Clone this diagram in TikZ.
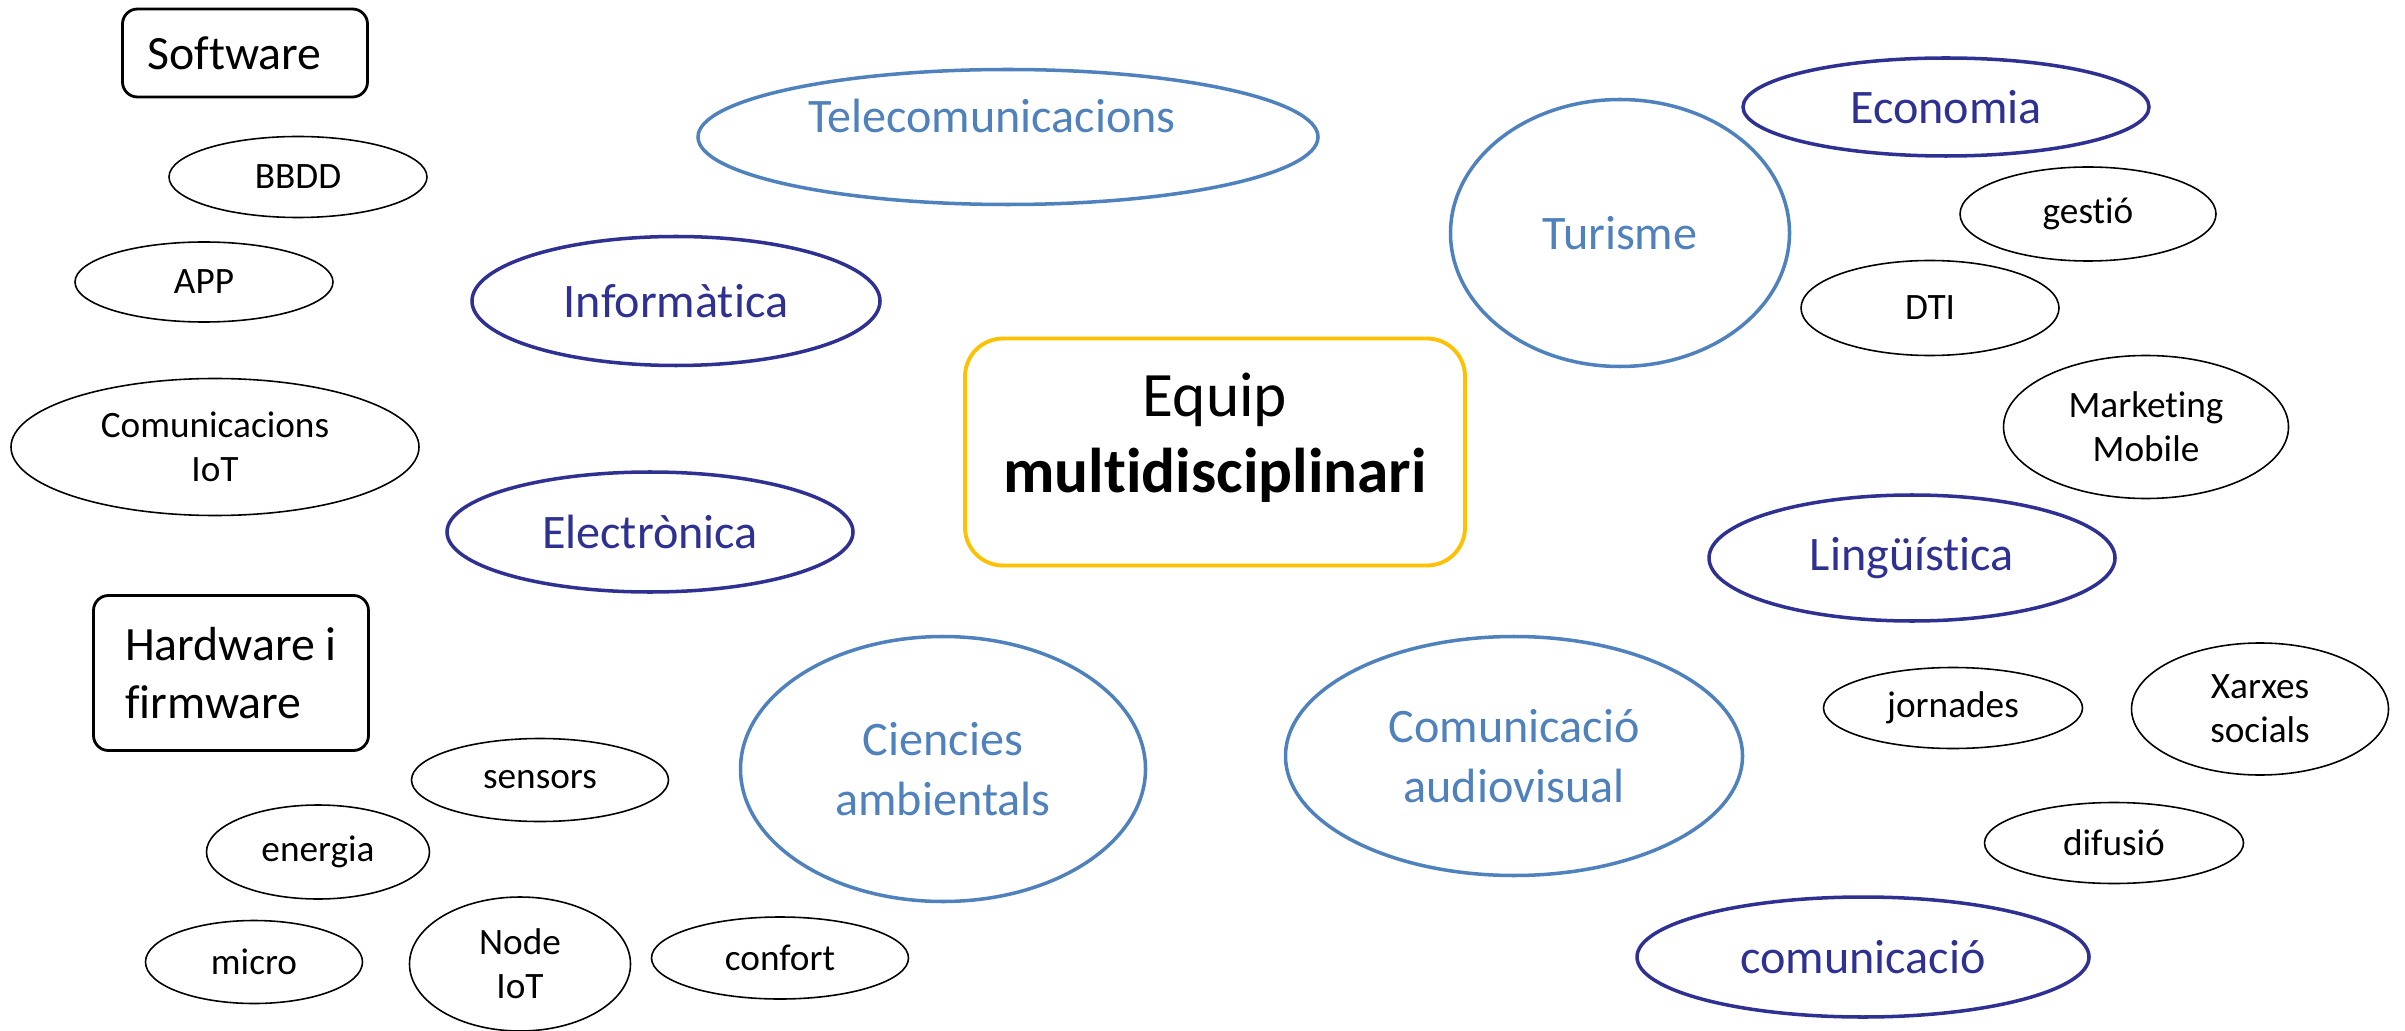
\documentclass[tikz,border=0pt]{standalone}
\usepackage{fontspec}
\setmainfont{Carlito}[Ligatures=NoCommon]
\usepackage{tikz}
\usetikzlibrary{shapes.geometric}
\usepackage{xcolor}
\definecolor{blauclar}{RGB}{79,129,189}
\definecolor{blaufosc}{RGB}{46,49,146}
\definecolor{daurat}{RGB}{255,192,0}

\begin{document}
\begin{tikzpicture}[y=-1cm,
  wh/.style 2 args={minimum width=#1cm, minimum height=#2cm},
  tema/.style={ellipse, draw, line width=0.45pt, inner sep=0pt, align=center,
    font=\fontsize{10.6}{12.6}\selectfont},
  areaclar/.style={ellipse, draw=blauclar, text=blauclar, line width=1pt,
    inner sep=0pt, align=center, font=\fontsize{13.7}{17}\selectfont},
  areafosc/.style={areaclar, draw=blaufosc, text=blaufosc},
  grupbox/.style={rectangle, rounded corners=0.15cm, draw, line width=0.8pt,
    inner ysep=0pt, align=left, font=\fontsize{13.6}{16.3}\selectfont}]
\useasboundingbox (0,0) rectangle (24.05,10.31);

% Software
\node[grupbox, inner xsep=0.25cm, text width=1.95cm, minimum height=0.88cm] (software) at (2.45,0.53) {Software};
\node[tema, wh={2.58}{0.81}] (bbdd) at (2.98,1.77) {BBDD};
\node[tema, wh={2.58}{0.80}] (app) at (2.04,2.82) {APP};
\node[tema, wh={4.08}{1.37}] (comiot) at (2.15,4.47) {Comunicacions\\IoT};

% Hardware i firmware
\node[grupbox, wh={2.75}{1.55}] (hardware) at (2.31,6.73) {Hardware i\\firmware};
\node[tema, wh={2.57}{0.83}] (sensors) at (5.40,7.80) {sensors};
\node[tema, wh={2.23}{0.94}] (energia) at (3.18,8.52) {energia};
\node[tema, wh={2.17}{0.83}] (micro) at (2.54,9.62) {micro};
\node[tema, wh={2.21}{1.34}] (nodeiot) at (5.20,9.64) {Node\\IoT};
\node[tema, wh={2.57}{0.82}] (confort) at (7.80,9.58) {confort};

% Arees tecniques
\node[areaclar, wh={6.20}{1.35}, text depth=0.42cm] (telecom) at (10.08,1.37) {Telecomunicacions\hspace*{0.32cm}};
\node[areafosc, wh={4.08}{1.29}] (informatica) at (6.76,3.01) {Informàtica};
\node[areafosc, wh={4.06}{1.20}] (electronica) at (6.50,5.32) {Electrònica};
\node[areaclar, wh={4.05}{2.65}] (ciencies) at (9.43,7.69) {Ciencies\\ambientals};

% Centre
\node[rectangle, rounded corners=0.38cm, draw=daurat, line width=1.1pt, wh={5.00}{2.27},
  align=center, text depth=0.39cm, font=\fontsize{18}{21.5}\selectfont] (equip) at (12.15,4.52)
  {Equip\\\textbf{multidisciplinari}};

% Turisme i economia
\node[areaclar, wh={3.39}{2.67}] (turisme) at (16.20,2.33) {Turisme};
\node[areafosc, wh={4.06}{0.98}] (economia) at (19.46,1.07) {Economia};
\node[tema, wh={2.56}{0.94}] (gestio) at (20.88,2.14) {gestió};
\node[tema, wh={2.58}{0.95}] (dti) at (19.30,3.08) {DTI};
\node[tema, wh={2.85}{1.43}] (marketing) at (21.46,4.27) {Marketing\\Mobile};
\node[areafosc, wh={4.06}{1.26}] (linguistica) at (19.12,5.58) {Lingüística};

% Comunicacio
\node[areaclar, wh={4.57}{2.39}] (audiovisual) at (15.14,7.56) {Comunicació\\audiovisual};
\node[tema, wh={2.59}{0.81}] (jornades) at (19.53,7.08) {jornades};
\node[tema, wh={2.57}{1.32}] (xarxes) at (22.60,7.09) {Xarxes\\socials};
\node[tema, wh={2.59}{0.81}] (difusio) at (21.14,8.43) {difusió};
\node[areafosc, wh={4.52}{1.20}] (comunicacio) at (18.63,9.57) {comunicació};
\end{tikzpicture}
\end{document}
